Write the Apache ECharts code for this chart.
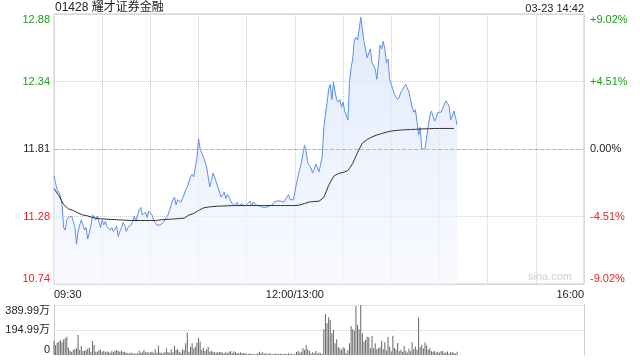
<!DOCTYPE html>
<html>
<head>
<meta charset="utf-8">
<script src="https://cdn.jsdelivr.net/npm/echarts@6/dist/echarts.min.js"></script>
<style>html,body{margin:0;padding:0;background:#fff;}#c{width:640px;height:360px;}</style>
</head>
<body>
<div id="c"></div>
<script>
// ---- data ----
const stockTitle = '01428 耀才证券金融';
const stampText = '03-23 14:42';
const prevClose = 11.81;
const priceMin = 10.745;
const priceMax = 12.875;
const pctMax = 9.02;
const volMax = 389.99;
const priceTicks = ['10.74', '11.28', '11.81', '12.34', '12.88'];
const pctTicks = ['-9.02%', '-4.51%', '0.00%', '+4.51%', '+9.02%'];
const volTicks = ['0', '194.99万', '389.99万'];
const timeTickMinutes = [0, 150, 330];
const timeTickLabels = ['09:30', '12:00/13:00', '16:00'];
const sessionMinutes = 330;
const avgStepMinutes = 3;

// price per minute from 09:30
const prices = [
 11.60,11.54,11.49,11.47,11.44,11.37,11.19,11.17,11.25,11.27,
 11.26,11.28,11.24,11.19,11.06,11.16,11.21,11.25,11.24,11.17,
 11.19,11.10,11.15,11.21,11.29,11.28,11.25,11.28,11.27,11.19,
 11.25,11.21,11.24,11.20,11.19,11.17,11.19,11.16,11.17,11.20,
 11.12,11.16,11.19,11.23,11.21,11.16,11.19,11.20,11.21,11.24,
 11.28,11.24,11.25,11.33,11.35,11.29,11.28,11.31,11.27,11.32,
 11.33,11.29,11.25,11.23,11.21,11.22,11.21,11.22,11.23,11.25,
 11.27,11.29,11.33,11.37,11.41,11.43,11.37,11.41,11.42,11.39,
 11.40,11.45,11.49,11.51,11.52,11.59,11.61,11.59,11.59,11.74,
 11.89,11.81,11.81,11.75,11.71,11.67,11.59,11.51,11.56,11.62,
 11.59,11.55,11.51,11.47,11.43,11.44,11.47,11.42,11.45,11.43,
 11.40,11.38,11.36,11.36,11.39,11.36,11.37,11.38,11.36,11.36,
 11.37,11.36,11.40,11.36,11.39,11.40,11.37,11.36,11.36,11.36,
 11.35,11.35,11.35,11.36,11.36,11.36,11.37,11.39,11.40,11.40,
 11.40,11.40,11.40,11.39,11.40,11.43,11.45,11.41,11.42,11.41,
 11.47,11.54,11.55,11.65,11.70,11.77,11.84,11.79,11.70,11.68,
 11.66,11.62,11.65,11.69,11.66,11.63,11.69,11.75,11.98,12.08,
 12.17,12.28,12.32,12.20,12.34,12.26,12.20,12.18,12.20,12.14,
 12.18,12.11,12.10,12.04,12.34,12.45,12.52,12.67,12.69,12.67,
 12.75,12.85,12.75,12.66,12.65,12.53,12.52,12.60,12.49,12.48,
 12.44,12.36,12.48,12.63,12.60,12.66,12.60,12.49,12.52,12.36,
 12.32,12.28,12.24,12.24,12.20,12.22,12.26,12.25,12.30,12.32,
 12.31,12.26,12.20,12.14,12.10,12.12,12.03,11.92,11.98,11.81,
 11.81,11.81,11.82,11.99,12.07,12.11,12.07,12.03,12.06,12.10,
 12.11,12.10,12.13,12.16,12.19,12.18,12.15,12.04,12.07,12.11,
 12.06,12.00
];

// average price, one value every 3 minutes
const avgPrices = [
 11.498,11.443,11.372,11.337,11.325,11.305,11.289,11.282,11.270,11.262,
 11.259,11.256,11.254,11.252,11.250,11.248,11.246,11.246,11.246,11.246,
 11.246,11.246,11.250,11.254,11.256,11.258,11.262,11.264,11.289,11.301,
 11.325,11.345,11.352,11.356,11.359,11.360,11.362,11.363,11.364,11.364,
 11.364,11.364,11.364,11.364,11.364,11.364,11.364,11.364,11.364,11.364,
 11.364,11.368,11.380,11.392,11.396,11.398,11.427,11.522,11.593,11.617,
 11.625,11.640,11.696,11.782,11.857,11.885,11.905,11.920,11.932,11.943,
 11.952,11.956,11.960,11.962,11.964,11.965,11.968,11.969,11.970,11.972,
 11.972,11.972,11.972,11.972
];

// volume per minute, in 万
const volumes = [
 112,78,96,104,117,99,122,130,143,
 57,34,23,39,44,52,156,39,70,
 31,34,39,49,57,26,109,78,26,
 26,39,39,26,34,21,29,23,18,
 31,21,34,39,31,26,34,23,26,
 18,16,13,18,13,10,13,10,
 34,18,21,39,21,23,18,21,26,
 18,44,18,73,21,13,18,21,52,
 23,18,44,21,73,39,44,26,18,
 44,39,91,174,26,65,91,52,
 65,96,135,104,39,57,31,44,65,
 26,31,
 26,21,18,26,21,23,18,13,21,13,
 26,31,13,29,21,16,13,21,16,13,
 16,10,8,13,8,5,10,8,13,26,
 13,21,10,13,8,16,10,5,8,13,
 8,10,8,10,5,10,8,13,8,10,
 5,10,23,34,18,26,52,39,78,44,
 34,13,21,13,31,13,18,13,8,200,
 320,247,294,273,169,195,91,122,60,52,
 39,60,52,13,39,91,226,200,190,382,
 234,200,390,169,104,117,143,138,52,148,
 52,91,44,52,
 60,110,45,100,35,140,66,30,150,55,
 40,93,30,40,25,70,34,20,48,30,
 100,45,66,40,292,60,80,50,98,74,
 40,53,30,25,32,20,26,18,30,32,
 15,21,28,12,26,20,18,10,26
];

// ---- chart ----
const FONT = '"Liberation Sans", Arial, "Noto Sans CJK SC", sans-serif';
const GREEN = '#1e9a1e', RED = '#f02020', DARK = '#222';
function sideColor(v, ref) {
  const d = Number(v) - ref;
  if (Math.abs(d) < 1e-6) return DARK;
  return d > 0 ? GREEN : RED;
}
const chart = echarts.init(document.getElementById('c'), null, {renderer: 'canvas'});
const option = {
  animation: false,
  backgroundColor: '#fff',
  textStyle: {fontFamily: FONT},
  grid: [
    {left: 54, top: 14, width: 530, height: 270, show: true, borderColor: '#ccc', borderWidth: 1, backgroundColor: 'transparent'},
    {left: 54, top: 305, width: 530, height: 50}
  ],
  xAxis: [
    {
      gridIndex: 0, type: 'value', min: 0, max: sessionMinutes, interval: 30,
      axisLine: {show: false}, axisTick: {show: false},
      splitLine: {show: true, lineStyle: {color: '#ccc', type: 'dotted', width: 1}},
      axisLabel: {
        margin: 5, fontSize: 11, color: DARK, fontFamily: FONT,
        showMinLabel: true, showMaxLabel: true,
        alignMinLabel: 'left', alignMaxLabel: 'right',
        formatter: function (v) { const k = timeTickMinutes.indexOf(v); return k >= 0 ? timeTickLabels[k] : ''; }
      }
    },
    {
      gridIndex: 1, type: 'value', min: 0, max: sessionMinutes,
      axisLine: {show: false}, axisTick: {show: false}, axisLabel: {show: false}, splitLine: {show: false}
    }
  ],
  yAxis: [
    {
      gridIndex: 0, type: 'value', position: 'left', min: priceMin, max: priceMax, interval: (priceMax - priceMin) / 4,
      axisLine: {show: false}, axisTick: {show: false},
      splitLine: {show: true, lineStyle: {color: '#ccc', type: 'dotted', width: 1}},
      axisLabel: {
        margin: 4, fontSize: 11, fontFamily: FONT,
        verticalAlignMinLabel: 'bottom', verticalAlignMaxLabel: 'top',
        formatter: function (v, i) { return priceTicks[i]; },
        color: function (v) { return sideColor(Math.round(Number(v) * 1000) / 1000, Math.round(prevClose * 1000) / 1000); }
      }
    },
    {
      gridIndex: 0, type: 'value', position: 'right', min: -pctMax, max: pctMax, interval: pctMax / 2,
      axisLine: {show: false}, axisTick: {show: false}, splitLine: {show: false},
      axisLabel: {
        margin: 6, fontSize: 11, fontFamily: FONT,
        verticalAlignMinLabel: 'bottom', verticalAlignMaxLabel: 'top',
        formatter: function (v, i) { return pctTicks[i]; },
        color: function (v) { return sideColor(Math.round(Number(v) * 100) / 100, 0); }
      }
    },
    {
      gridIndex: 1, type: 'value', position: 'left', min: 0, max: volMax, interval: volMax / 2,
      axisLine: {show: true, lineStyle: {color: '#ccc'}}, axisTick: {show: false},
      splitLine: {show: true, showMinLine: false, lineStyle: {color: '#ccc', type: 'dotted', width: 1}},
      axisLabel: {
        margin: 4, fontSize: 11, color: DARK, fontFamily: FONT,
        verticalAlignMinLabel: 'bottom', verticalAlignMaxLabel: 'top',
        formatter: function (v, i) { return volTicks[i]; }
      }
    },
    {
      gridIndex: 1, type: 'value', position: 'right', min: 0, max: volMax,
      axisLine: {show: true, lineStyle: {color: '#ccc'}}, axisTick: {show: false},
      axisLabel: {show: false}, splitLine: {show: false}
    }
  ],
  series: [
    {
      type: 'line', xAxisIndex: 0, yAxisIndex: 0, showSymbol: false, symbol: 'none',
      data: prices.map(function (p, i) { return [i, p]; }),
      lineStyle: {color: '#5b8ff0', width: 1},
      areaStyle: {
        color: new echarts.graphic.LinearGradient(0, 0, 0, 1, [
          {offset: 0, color: '#d4e2fa'}, {offset: 1, color: '#f6f8fe'}
        ])
      },
      markLine: {
        silent: true, symbol: 'none', label: {show: false},
        lineStyle: {color: '#bbb', type: 'dashed', width: 1},
        data: [{yAxis: prevClose}]
      },
      z: 2
    },
    {
      type: 'line', xAxisIndex: 0, yAxisIndex: 0, showSymbol: false, symbol: 'none',
      data: avgPrices.map(function (p, i) { return [i * avgStepMinutes, p]; }),
      lineStyle: {color: '#333', width: 1},
      z: 3
    },
    {
      type: 'bar', xAxisIndex: 1, yAxisIndex: 2, barWidth: 1,
      data: volumes.map(function (v, i) { return [i, v]; }),
      itemStyle: {color: '#666'}
    }
  ],
  graphic: [
    {type: 'text', left: 55, top: 2, style: {text: stockTitle, font: '12px ' + FONT, fill: DARK}},
    {type: 'text', right: 56, top: 3, style: {text: stampText, font: '11px ' + FONT, fill: DARK}},
    {type: 'text', right: 68, top: 271, style: {text: 'sina.com', font: '11px ' + FONT, fill: '#d0d0d0'}}
  ]
};
chart.setOption(option);
</script>
</body>
</html>
